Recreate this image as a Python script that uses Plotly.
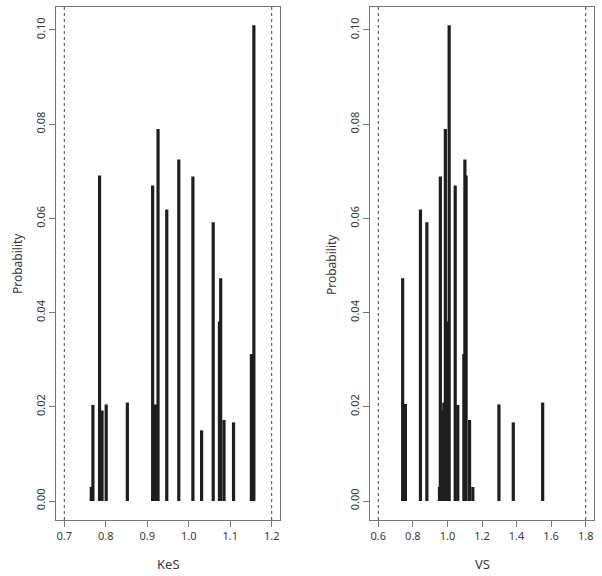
import plotly.graph_objects as go

# ---- data ----
kes_x = [0.765, 0.769, 0.785, 0.791, 0.801, 0.852, 0.913, 0.920, 0.926, 0.947,
         0.976, 1.010, 1.031, 1.059, 1.074, 1.077, 1.085, 1.108, 1.151, 1.157]
kes_p = [0.0030, 0.0204, 0.0691, 0.0192, 0.0205, 0.0209, 0.0670, 0.0205, 0.0790, 0.0619,
         0.0725, 0.0689, 0.0150, 0.0592, 0.0381, 0.0473, 0.0172, 0.0167, 0.0312, 0.1010]

vs_x = [0.741, 0.757, 0.844, 0.881, 0.954, 0.959, 0.973, 0.979, 0.988, 0.996,
        1.010, 1.045, 1.060, 1.095, 1.101, 1.108, 1.128, 1.147, 1.298, 1.381, 1.551]
vs_p = [0.0473, 0.0206, 0.0619, 0.0592, 0.0030, 0.0689, 0.0192, 0.0209, 0.0790, 0.0381,
        0.1010, 0.0670, 0.0204, 0.0312, 0.0725, 0.0691, 0.0172, 0.0030, 0.0205, 0.0167, 0.0209]

kes_ticks = [0.7, 0.8, 0.9, 1.0, 1.1, 1.2]
vs_ticks = [0.6, 0.8, 1.0, 1.2, 1.4, 1.6, 1.8]
y_ticks = [0.00, 0.02, 0.04, 0.06, 0.08, 0.10]
kes_limits = [0.7, 1.2]
vs_limits = [0.6, 1.8]


def spikes(xs, ps):
    X, Y = [], []
    for x, p in zip(xs, ps):
        X += [x, x, None]
        Y += [0, p, None]
    return X, Y


FONT = "Noto Sans"
TXT = "#3a3a3a"
W, H = 602, 576

fig = go.Figure()
kx, ky = spikes(kes_x, kes_p)
vx, vy = spikes(vs_x, vs_p)
fig.add_trace(go.Scatter(x=kx, y=ky, mode="lines", line=dict(color="#1e1e1e", width=3.2),
                         xaxis="x", yaxis="y", showlegend=False, hoverinfo="skip"))
fig.add_trace(go.Scatter(x=vx, y=vy, mode="lines", line=dict(color="#1e1e1e", width=3.2),
                         xaxis="x2", yaxis="y2", showlegend=False, hoverinfo="skip"))

ydom = [1 - 520 / H, 1 - 7 / H]
xdom1 = [56 / W, 280 / W]
xdom2 = [370 / W, 594 / W]

common_ax = dict(showline=True, linecolor="#777777", linewidth=1, mirror=True,
                 ticks="outside", ticklen=6, tickcolor="#777777", showgrid=False,
                 zeroline=False, tickfont=dict(family=FONT, size=11, color=TXT))

fig.update_layout(
    width=W, height=H, margin=dict(l=0, r=0, t=0, b=0),
    paper_bgcolor="white", plot_bgcolor="white",
    xaxis=dict(domain=xdom1, range=[0.68, 1.22], tickvals=kes_ticks,
               ticktext=[f"{v:.1f}" for v in kes_ticks], anchor="y", **common_ax),
    yaxis=dict(domain=ydom, range=[-0.00403, 0.10488], tickvals=y_ticks,
               ticktext=[f"{v:.2f}" for v in y_ticks], tickangle=-90, anchor="x", **common_ax),
    xaxis2=dict(domain=xdom2, range=[0.552, 1.848], tickvals=vs_ticks,
                ticktext=[f"{v:.1f}" for v in vs_ticks], anchor="y2", **common_ax),
    yaxis2=dict(domain=ydom, range=[-0.00403, 0.10488], tickvals=y_ticks,
                ticktext=[f"{v:.2f}" for v in y_ticks], tickangle=-90, anchor="x2", **common_ax),
)

shapes = []
for xr, yr, lims in [("x", "y domain", kes_limits), ("x2", "y2 domain", vs_limits)]:
    for v in lims:
        shapes.append(dict(type="line", xref=xr, yref=yr, x0=v, x1=v, y0=0, y1=1,
                           line=dict(color="#444444", width=1, dash="3px,3px")))
fig.update_layout(shapes=shapes)

ann = []
ann.append(dict(text="KeS", xref="paper", yref="paper", x=(xdom1[0] + xdom1[1]) / 2,
                y=1 - 564 / H, showarrow=False, font=dict(family=FONT, size=13, color=TXT),
                xanchor="center", yanchor="middle"))
ann.append(dict(text="VS", xref="paper", yref="paper", x=(xdom2[0] + xdom2[1]) / 2,
                y=1 - 564 / H, showarrow=False, font=dict(family=FONT, size=13, color=TXT),
                xanchor="center", yanchor="middle"))
for x0 in [18, 332]:
    ann.append(dict(text="Probability", xref="paper", yref="paper", x=x0 / W,
                    y=1 - 264 / H, showarrow=False, textangle=-90,
                    font=dict(family=FONT, size=12, color=TXT),
                    xanchor="center", yanchor="middle"))
fig.update_layout(annotations=ann)

fig.write_html("out.html", config={"displayModeBar": False},
               post_script="document.body.style.margin='0px';document.body.style.overflow='hidden';")
